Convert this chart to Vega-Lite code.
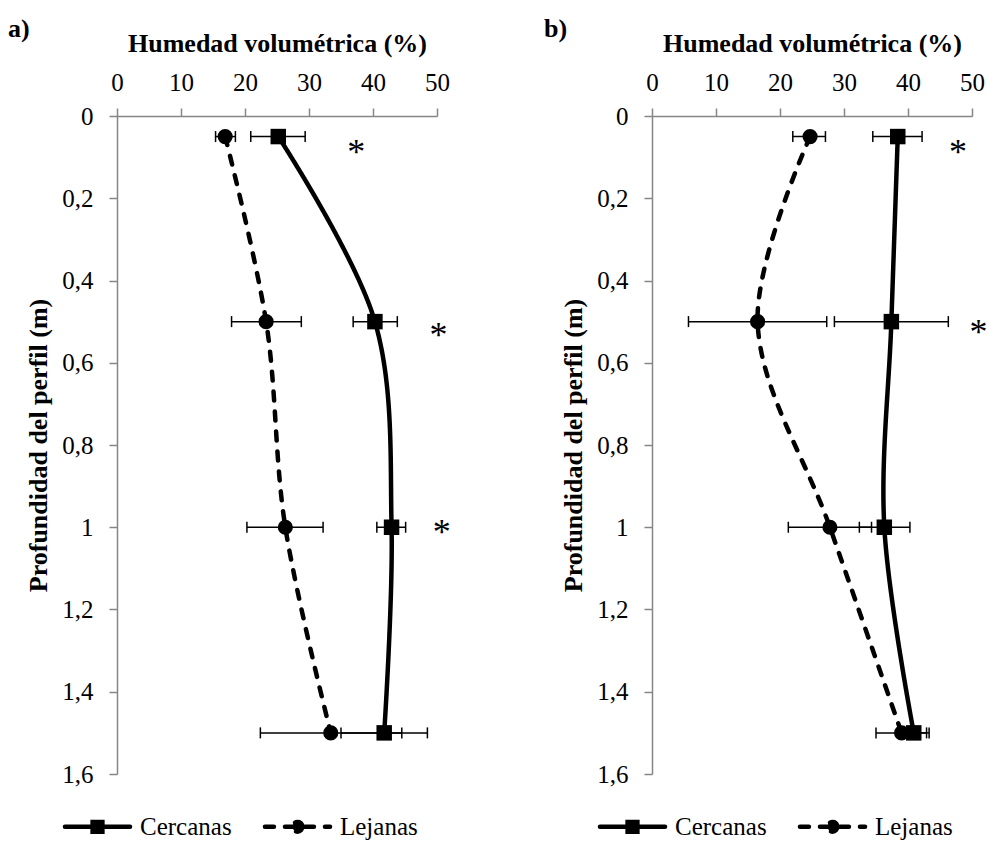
{
  "$schema": "https://vega.github.io/schema/vega-lite/v6.json",
  "background": "white",
  "padding": {"left": 8, "top": 16, "right": 0, "bottom": 0},
  "spacing": 93,
  "config": {
    "font": "Liberation Serif",
    "view": {"stroke": null},
    "axis": {
      "domainColor": "#868686", "tickColor": "#868686", "domainWidth": 1.5, "tickWidth": 1.5, "tickSize": 8,
      "labelFont": "Liberation Serif", "labelFontSize": 25, "labelColor": "black",
      "titleFont": "Liberation Serif", "titleFontSize": 26, "titleFontWeight": "bold", "titleColor": "black",
      "grid": false, "labelFlush": false, "labelOverlap": false
    },
    "legend": {"labelFont": "Liberation Serif"},
    "title": {"font": "Liberation Serif", "fontSize": 26, "fontWeight": "bold", "color": "black"}
  },
  "resolve": {"scale": {"strokeDash": "independent"}, "legend": {"strokeDash": "independent"}},
  "datasets": {
    "puntos": [
      {"panel": "a", "serie": "Cercanas", "depth": 0.05, "value": 25.2, "lo": 20.9, "hi": 29.4},
      {"panel": "a", "serie": "Cercanas", "depth": 0.5, "value": 40.3, "lo": 36.9, "hi": 43.8},
      {"panel": "a", "serie": "Cercanas", "depth": 1.0, "value": 42.9, "lo": 40.6, "hi": 45.1},
      {"panel": "a", "serie": "Cercanas", "depth": 1.5, "value": 41.75, "lo": 35.0, "hi": 48.5},
      {"panel": "a", "serie": "Lejanas", "depth": 0.05, "value": 16.9, "lo": 15.4, "hi": 18.5},
      {"panel": "a", "serie": "Lejanas", "depth": 0.5, "value": 23.3, "lo": 17.9, "hi": 28.8},
      {"panel": "a", "serie": "Lejanas", "depth": 1.0, "value": 26.3, "lo": 20.3, "hi": 32.2},
      {"panel": "a", "serie": "Lejanas", "depth": 1.5, "value": 33.4, "lo": 22.4, "hi": 44.5},
      {"panel": "b", "serie": "Cercanas", "depth": 0.05, "value": 38.4, "lo": 34.5, "hi": 42.2},
      {"panel": "b", "serie": "Cercanas", "depth": 0.5, "value": 37.4, "lo": 28.5, "hi": 46.3},
      {"panel": "b", "serie": "Cercanas", "depth": 1.0, "value": 36.3, "lo": 32.4, "hi": 40.3},
      {"panel": "b", "serie": "Cercanas", "depth": 1.5, "value": 40.9, "lo": 38.5, "hi": 43.3},
      {"panel": "b", "serie": "Lejanas", "depth": 0.05, "value": 24.7, "lo": 22.0, "hi": 27.1},
      {"panel": "b", "serie": "Lejanas", "depth": 0.5, "value": 16.5, "lo": 5.7, "hi": 27.3},
      {"panel": "b", "serie": "Lejanas", "depth": 1.0, "value": 27.8, "lo": 21.3, "hi": 34.3},
      {"panel": "b", "serie": "Lejanas", "depth": 1.5, "value": 39.0, "lo": 35.0, "hi": 42.9}
    ],
    "asteriscos": [
      {"panel": "a", "x": 37.4, "depth": 0.077, "t": "*"},
      {"panel": "a", "x": 50.25, "depth": 0.522, "t": "*"},
      {"panel": "a", "x": 50.75, "depth": 1.003, "t": "*"},
      {"panel": "b", "x": 47.8, "depth": 0.078, "t": "*"},
      {"panel": "b", "x": 51.0, "depth": 0.515, "t": "*"}
    ]
  },
  "hconcat": [
    {
      "title": {"text": "a)", "anchor": "start", "frame": "group", "dx": -109, "offset": -12},
      "width": 320, "height": 658,
      "data": {"name": "puntos"},
      "transform": [{"filter": "datum.panel === 'a'"}],
      "encoding": {
        "y": {"field": "depth", "type": "quantitative", "title": "Profundidad del perfil (m)",
              "scale": {"domain": [0, 1.6], "reverse": true, "nice": false, "zero": false},
              "axis": {"values": [0, 0.2, 0.4, 0.6, 0.8, 1, 1.2, 1.4, 1.6], "labelExpr": "replace(format(datum.value, '.1~f'), '.', ',')", "labelPadding": 16, "titlePadding": 10, "labelFont": "Liberation Serif", "titleFont": "Liberation Serif"}}
      },
      "layer": [
        {
          "mark": {"type": "rule", "color": "black", "strokeWidth": 1.5},
          "encoding": {
            "x": {"field": "lo", "type": "quantitative", "title": "Humedad volumétrica (%)", "scale": {"domain": [0, 50], "nice": false},
                  "axis": {"orient": "top", "values": [0, 10, 20, 30, 40, 50], "labelPadding": 13, "titlePadding": 14, "labelFont": "Liberation Serif", "titleFont": "Liberation Serif"}},
            "x2": {"field": "hi"}
          }
        },
        {
          "transform": [{"fold": ["lo", "hi"], "as": ["end", "xv"]}],
          "mark": {"type": "point", "shape": "M0,-1V1", "filled": false, "color": "black", "strokeWidth": 1.5, "size": 121, "opacity": 1},
          "encoding": {
            "x": {"field": "xv", "type": "quantitative", "title": "Humedad volumétrica (%)", "scale": {"domain": [0, 50], "nice": false},
                  "axis": {"orient": "top", "values": [0, 10, 20, 30, 40, 50], "labelPadding": 13, "titlePadding": 14, "labelFont": "Liberation Serif", "titleFont": "Liberation Serif"}}
          }
        },
        {
          "mark": {"type": "line", "color": "black", "strokeWidth": 4.5, "interpolate": "catmull-rom", "strokeCap": "round"},
          "encoding": {
            "x": {"field": "value", "type": "quantitative", "title": "Humedad volumétrica (%)", "scale": {"domain": [0, 50], "nice": false},
                  "axis": {"orient": "top", "values": [0, 10, 20, 30, 40, 50], "labelPadding": 13, "titlePadding": 14, "labelFont": "Liberation Serif", "titleFont": "Liberation Serif"}},
            "order": {"field": "depth", "type": "quantitative"},
            "strokeDash": {"field": "serie", "type": "nominal",
              "scale": {"domain": ["Cercanas", "Lejanas"], "range": [[1, 0], [9, 11]]},
              "legend": {"orient": "none", "legendX": -57, "legendY": 673, "direction": "horizontal", "title": null,
                "symbolSize": 4900, "symbolStrokeWidth": 4.5, "symbolStrokeColor": "black", "symbolType": "M-0.93,0H0.93",
                "labelFont": "Liberation Serif", "labelFontSize": 25, "labelColor": "black", "labelOffset": 5, "columnPadding": 23,
                "encode": {"symbols": {"update": {
                  "shape": {"signal": "datum.value === 'Cercanas' ? 'M-0.93,0H0.93M-0.14,-0.14H0.14V0.14H-0.14Z' : 'M-0.93,0H0.93M0.14,0A0.14,0.14,0,1,1,-0.14,0A0.14,0.14,0,1,1,0.14,0Z'"},
                  "stroke": {"value": "black"}, "strokeWidth": {"value": 4.5}, "strokeOpacity": {"value": 1},
                  "strokeDash": {"signal": "datum.value === 'Cercanas' ? [1, 0] : [9, 11]"},
                  "fill": {"value": "black"}, "fillOpacity": {"value": 1}, "opacity": {"value": 1}, "strokeCap": {"value": "round"}}}}}
            }
          }
        },
        {
          "transform": [{"filter": "datum.serie === 'Cercanas'"}],
          "mark": {"type": "point", "shape": "square", "filled": true, "color": "black", "size": 240, "opacity": 1},
          "encoding": {
            "x": {"field": "value", "type": "quantitative", "title": "Humedad volumétrica (%)", "scale": {"domain": [0, 50], "nice": false},
                  "axis": {"orient": "top", "values": [0, 10, 20, 30, 40, 50], "labelPadding": 13, "titlePadding": 14, "labelFont": "Liberation Serif", "titleFont": "Liberation Serif"}}
          }
        },
        {
          "transform": [{"filter": "datum.serie === 'Lejanas'"}],
          "mark": {"type": "point", "shape": "circle", "filled": true, "color": "black", "size": 230, "opacity": 1},
          "encoding": {
            "x": {"field": "value", "type": "quantitative", "title": "Humedad volumétrica (%)", "scale": {"domain": [0, 50], "nice": false},
                  "axis": {"orient": "top", "values": [0, 10, 20, 30, 40, 50], "labelPadding": 13, "titlePadding": 14, "labelFont": "Liberation Serif", "titleFont": "Liberation Serif"}}
          }
        },
        {
          "data": {"name": "asteriscos"},
          "transform": [{"filter": "datum.panel === 'a'"}],
          "mark": {"type": "text", "font": "Liberation Serif", "fontSize": 36, "baseline": "alphabetic", "dy": 16, "color": "black"},
          "encoding": {
            "x": {"field": "x", "type": "quantitative", "title": "Humedad volumétrica (%)", "scale": {"domain": [0, 50], "nice": false},
                  "axis": {"orient": "top", "values": [0, 10, 20, 30, 40, 50], "labelPadding": 13, "titlePadding": 14, "labelFont": "Liberation Serif", "titleFont": "Liberation Serif"}},
            "text": {"field": "t"}
          }
        }
      ]
    },
    {
      "title": {"text": "b)", "anchor": "start", "frame": "group", "dx": -108, "offset": -12},
      "width": 320, "height": 658,
      "data": {"name": "puntos"},
      "transform": [{"filter": "datum.panel === 'b'"}],
      "encoding": {
        "y": {"field": "depth", "type": "quantitative", "title": "Profundidad del perfil (m)",
              "scale": {"domain": [0, 1.6], "reverse": true, "nice": false, "zero": false},
              "axis": {"values": [0, 0.2, 0.4, 0.6, 0.8, 1, 1.2, 1.4, 1.6], "labelExpr": "replace(format(datum.value, '.1~f'), '.', ',')", "labelPadding": 16, "titlePadding": 10, "labelFont": "Liberation Serif", "titleFont": "Liberation Serif"}}
      },
      "layer": [
        {
          "mark": {"type": "rule", "color": "black", "strokeWidth": 1.5},
          "encoding": {
            "x": {"field": "lo", "type": "quantitative", "title": "Humedad volumétrica (%)", "scale": {"domain": [0, 50], "nice": false},
                  "axis": {"orient": "top", "values": [0, 10, 20, 30, 40, 50], "labelPadding": 13, "titlePadding": 14, "labelFont": "Liberation Serif", "titleFont": "Liberation Serif"}},
            "x2": {"field": "hi"}
          }
        },
        {
          "transform": [{"fold": ["lo", "hi"], "as": ["end", "xv"]}],
          "mark": {"type": "point", "shape": "M0,-1V1", "filled": false, "color": "black", "strokeWidth": 1.5, "size": 121, "opacity": 1},
          "encoding": {
            "x": {"field": "xv", "type": "quantitative", "title": "Humedad volumétrica (%)", "scale": {"domain": [0, 50], "nice": false},
                  "axis": {"orient": "top", "values": [0, 10, 20, 30, 40, 50], "labelPadding": 13, "titlePadding": 14, "labelFont": "Liberation Serif", "titleFont": "Liberation Serif"}}
          }
        },
        {
          "mark": {"type": "line", "color": "black", "strokeWidth": 4.5, "interpolate": "catmull-rom", "strokeCap": "round"},
          "encoding": {
            "x": {"field": "value", "type": "quantitative", "title": "Humedad volumétrica (%)", "scale": {"domain": [0, 50], "nice": false},
                  "axis": {"orient": "top", "values": [0, 10, 20, 30, 40, 50], "labelPadding": 13, "titlePadding": 14, "labelFont": "Liberation Serif", "titleFont": "Liberation Serif"}},
            "order": {"field": "depth", "type": "quantitative"},
            "strokeDash": {"field": "serie", "type": "nominal",
              "scale": {"domain": ["Cercanas", "Lejanas"], "range": [[1, 0], [9, 11]]},
              "legend": {"orient": "none", "legendX": -57, "legendY": 673, "direction": "horizontal", "title": null,
                "symbolSize": 4900, "symbolStrokeWidth": 4.5, "symbolStrokeColor": "black", "symbolType": "M-0.93,0H0.93",
                "labelFont": "Liberation Serif", "labelFontSize": 25, "labelColor": "black", "labelOffset": 5, "columnPadding": 23,
                "encode": {"symbols": {"update": {
                  "shape": {"signal": "datum.value === 'Cercanas' ? 'M-0.93,0H0.93M-0.14,-0.14H0.14V0.14H-0.14Z' : 'M-0.93,0H0.93M0.14,0A0.14,0.14,0,1,1,-0.14,0A0.14,0.14,0,1,1,0.14,0Z'"},
                  "stroke": {"value": "black"}, "strokeWidth": {"value": 4.5}, "strokeOpacity": {"value": 1},
                  "strokeDash": {"signal": "datum.value === 'Cercanas' ? [1, 0] : [9, 11]"},
                  "fill": {"value": "black"}, "fillOpacity": {"value": 1}, "opacity": {"value": 1}, "strokeCap": {"value": "round"}}}}}
            }
          }
        },
        {
          "transform": [{"filter": "datum.serie === 'Cercanas'"}],
          "mark": {"type": "point", "shape": "square", "filled": true, "color": "black", "size": 240, "opacity": 1},
          "encoding": {
            "x": {"field": "value", "type": "quantitative", "title": "Humedad volumétrica (%)", "scale": {"domain": [0, 50], "nice": false},
                  "axis": {"orient": "top", "values": [0, 10, 20, 30, 40, 50], "labelPadding": 13, "titlePadding": 14, "labelFont": "Liberation Serif", "titleFont": "Liberation Serif"}}
          }
        },
        {
          "transform": [{"filter": "datum.serie === 'Lejanas'"}],
          "mark": {"type": "point", "shape": "circle", "filled": true, "color": "black", "size": 230, "opacity": 1},
          "encoding": {
            "x": {"field": "value", "type": "quantitative", "title": "Humedad volumétrica (%)", "scale": {"domain": [0, 50], "nice": false},
                  "axis": {"orient": "top", "values": [0, 10, 20, 30, 40, 50], "labelPadding": 13, "titlePadding": 14, "labelFont": "Liberation Serif", "titleFont": "Liberation Serif"}}
          }
        },
        {
          "data": {"name": "asteriscos"},
          "transform": [{"filter": "datum.panel === 'b'"}],
          "mark": {"type": "text", "font": "Liberation Serif", "fontSize": 36, "baseline": "alphabetic", "dy": 16, "color": "black"},
          "encoding": {
            "x": {"field": "x", "type": "quantitative", "title": "Humedad volumétrica (%)", "scale": {"domain": [0, 50], "nice": false},
                  "axis": {"orient": "top", "values": [0, 10, 20, 30, 40, 50], "labelPadding": 13, "titlePadding": 14, "labelFont": "Liberation Serif", "titleFont": "Liberation Serif"}},
            "text": {"field": "t"}
          }
        }
      ]
    }
  ]
}
